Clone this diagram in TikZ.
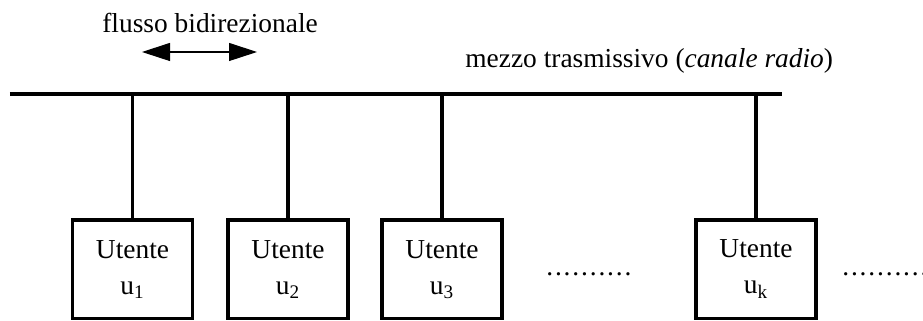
\documentclass[tikz,border=0pt]{standalone}
\usepackage{fontspec}
\setmainfont{Liberation Serif}
\usepackage{tikz}
\usetikzlibrary{arrows.meta}

\tikzset{
	utente/.style={draw, line width=2.1pt, minimum width=2.4cm, minimum height=1.97cm, align=center, inner sep=0pt},
	filo/.style={line width=2.1pt},
	testo/.style={inner sep=0pt, anchor=base west}
}
\newcommand{\puntini}{\foreach \k in {1,...,10}{\makebox[0.174cm][l]{.}}}

\begin{document}
\fontsize{15.6}{20.4}\selectfont
\begin{tikzpicture}
	\useasboundingbox (0, 0) rectangle (18.46, 6.42);
	% Bus and stations:
	\coordinate (busW) at (0.2, 4.54);
	\coordinate (busE) at (15.64, 4.54);
	\draw[filo] (busW) -- (busE);
	\node[utente](u1) at (2.65, 1.035){Utente\\u\textsubscript{1}};
	\node[utente](u2) at (5.76, 1.035){Utente\\u\textsubscript{2}};
	\node[utente](u3) at (8.84, 1.035){Utente\\u\textsubscript{3}};
	\node[utente](uk) at (15.12, 1.035){Utente\\u\textsubscript{k}};
	\draw[filo] (u1.north) -- (u1.north |- busW);
	\draw[filo] (u2.north) -- (u2.north |- busW);
	\draw[filo] (u3.north) -- (u3.north |- busW);
	\draw[filo] (uk.north) -- (uk.north |- busW);
	\node[testo](D1) at (10.92, 0.9){\puntini};
	\node[testo](D2) at (16.84, 0.9){\puntini};
	% Labels and arrow:
	\node[testo](F) at (2.04, 5.76){flusso bidirezionale};
	\coordinate (fL) at (2.84, 5.38);
	\coordinate (fR) at (5.14, 5.38);
	\draw[line width=0.6pt, {Triangle[length=0.56cm, width=0.36cm]}-{Triangle[length=0.56cm, width=0.36cm]}] (fL) -- (fR);
	\node[testo](M) at (9.30, 5.06){mezzo trasmissivo (\textit{canale radio})};
\end{tikzpicture}
\end{document}
